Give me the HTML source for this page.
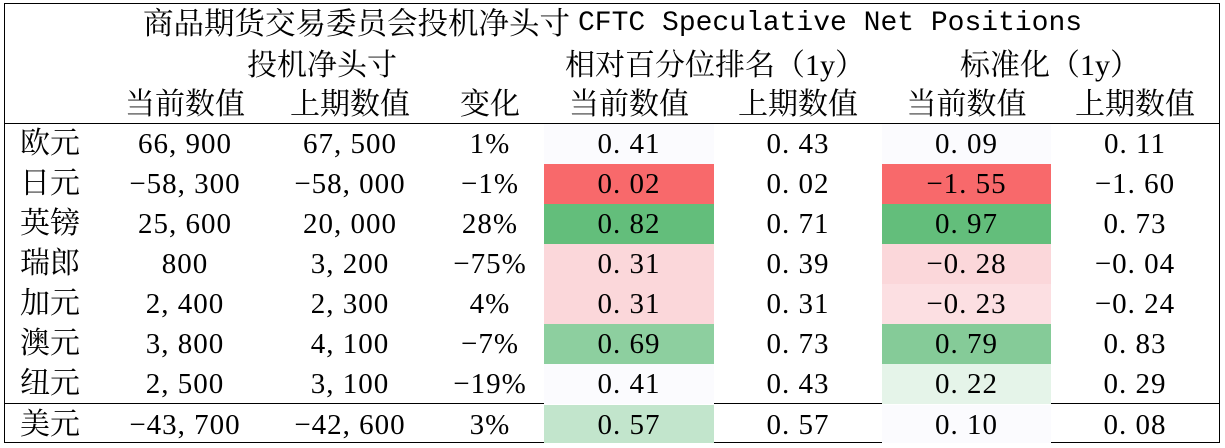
<!DOCTYPE html><html><head><meta charset="utf-8"><style>
body{margin:0;width:1225px;height:448px;background:#fff;overflow:hidden;font-family:"Liberation Serif","Noto Serif CJK SC",serif;color:#000}
.b{position:absolute;left:4px;top:3px;width:1214px;height:438px;border:1.5px solid #000}
.h{position:absolute;left:4px;width:1216px;height:0;border-top:1.5px solid #000}
.c{position:absolute;height:40px;line-height:40px;text-align:center;font-size:29px;white-space:nowrap;letter-spacing:1px}
.t{position:absolute;font-size:30px;line-height:36px;text-align:center;white-space:nowrap}
.m{font-family:"Liberation Mono",monospace;font-size:28px;position:absolute;left:578px;top:6px;line-height:36px;white-space:nowrap}
</style></head><body>
<div class="b"></div>
<div class="h" style="top:123px"></div>
<div class="h" style="top:403px"></div>
<div class="t" style="left:143px;top:6px;text-align:left;font-size:30.5px">商品期货交易委员会投机净头寸</div>
<div class="m">CFTC Speculative Net Positions</div>
<div class="t" style="left:222px;width:200px;top:48px">投机净头寸</div>
<div class="t" style="left:545px;width:340px;top:48px">相对百分位排名（1y）</div>
<div class="t" style="left:930px;width:240px;top:48px">标准化（1y）</div>
<div id="r"></div>
<script>
const xs=[[10,80],[110,150],[275,150],[440,100],[544,170],[714,168],[882,169],[1051,168]];
const hd=["","当前数值","上期数值","变化","当前数值","上期数值","当前数值","上期数值"];
const rows=[
["欧元","66,900","67,500","1%","0.41","0.43","0.09","0.11","#fbfbfe","#fbfbfe"],
["日元","-58,300","-58,000","-1%","0.02","0.02","-1.55","-1.60","#f8696b","#f8696b"],
["英镑","25,600","20,000","28%","0.82","0.71","0.97","0.73","#63be7b","#63be7b"],
["瑞郎","800","3,200","-75%","0.31","0.39","-0.28","-0.04","#fbd7da","#fbd7da"],
["加元","2,400","2,300","4%","0.31","0.31","-0.23","-0.24","#fbd7da","#fcdfe2"],
["澳元","3,800","4,100","-7%","0.69","0.73","0.79","0.83","#8dcf9f","#85cb98"],
["纽元","2,500","3,100","-19%","0.41","0.43","0.22","0.29","#fbfbfe","#e5f4e9"],
["美元","-43,700","-42,600","3%","0.57","0.57","0.10","0.08","#c2e5cc","#fbfbfe"]];
let h="";
hd.forEach((s,i)=>{h+=`<div class="c" style="left:${xs[i][0]}px;width:${xs[i][1]}px;top:85px;letter-spacing:0;font-size:30px">${s}</div>`});
rows.forEach((r,j)=>{const y=124+40*j+(j==7?1:0);
for(let i=0;i<8;i++){let bg=i==4?r[8]:i==6?r[9]:"transparent";
let s=r[i].replace(/-/g,'−').replace(/,/g,', ').replace(/\./g,'. ');
h+=`<div class="c" style="left:${xs[i][0]}px;width:${xs[i][1]}px;top:${y}px;height:${j==7?38:40}px;background:${bg}${i==0?';letter-spacing:0;font-size:30px':''}">${s}</div>`}});
document.getElementById('r').innerHTML=h;
</script>
</body></html>
